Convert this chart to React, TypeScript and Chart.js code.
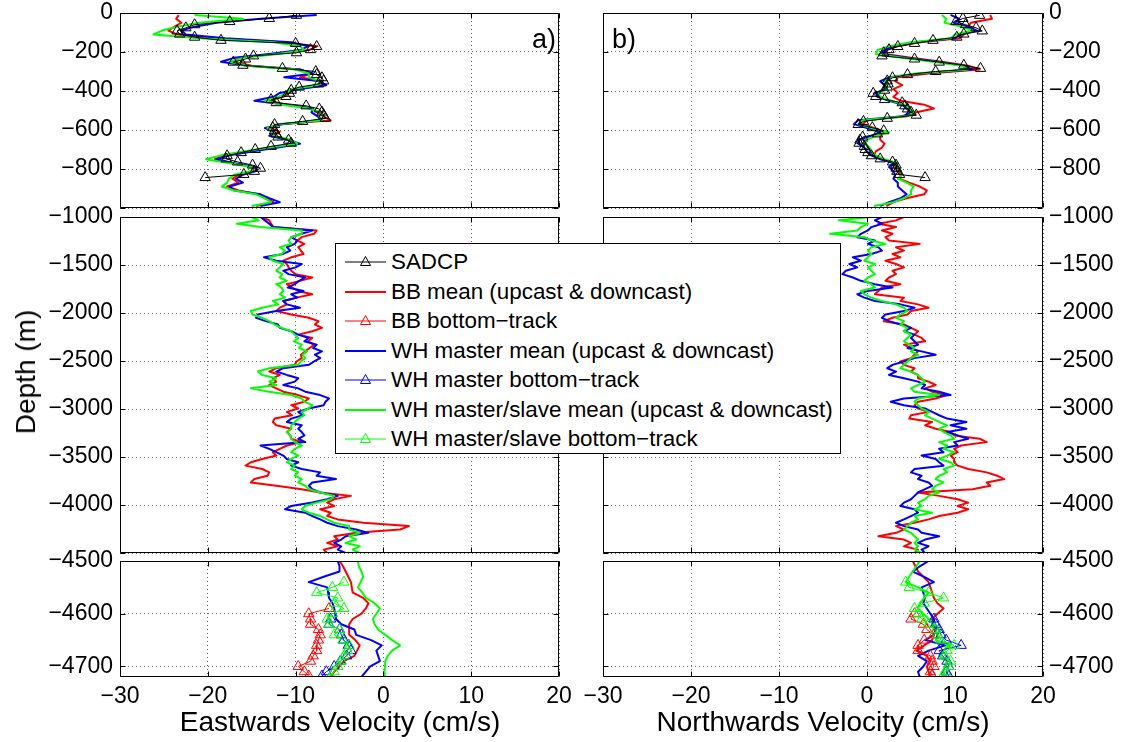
import React, { useEffect, useRef } from 'react';
import { Chart, registerables } from 'chart.js';

Chart.register(...registerables);

const FONT = '"Liberation Sans", Arial, Helvetica, sans-serif';
const RED = '#ff0000';
const BLUE = '#0000ff';
const GREEN = '#00ff00';
const BLACK = '#000000';
const GRID = 'rgba(0,0,0,0.6)';

// ---------- axes / ticks ----------
const xTickValues = [-30, -20, -10, 0, 10, 20];
const yTicksTop = [0, -200, -400, -600, -800, -1000];
const yTicksMid = [-1000, -1500, -2000, -2500, -3000, -3500, -4000, -4500];
const yTicksBot = [-4500, -4600, -4700];

// ---------- depth grids (m) ----------
const depthSADCP = [
  -12, -28, -44, -60, -76, -92, -108, -124, -140, -156,
  -172, -188, -204, -220, -236, -252, -268, -284, -300, -316,
  -332, -348, -364, -380, -396, -412, -428, -444, -460, -476,
  -492, -508, -524, -540, -556, -572, -588, -604, -620, -636,
  -652, -668, -684, -700, -716, -732, -748, -764, -780, -796,
  -812, -828, -844,
];
const depthTop = [
  -10, -30, -50, -70, -90, -110, -130, -150, -170, -190,
  -210, -230, -250, -270, -290, -310, -330, -350, -370, -390,
  -410, -430, -450, -470, -490, -510, -530, -550, -570, -590,
  -610, -630, -650, -670, -690, -710, -730, -750, -770, -790,
  -810, -830, -850, -870, -890, -910, -930, -950, -970, -990,
];
const depthMid = [
  -1000, -1035, -1070, -1105, -1140, -1175, -1210, -1245, -1280, -1315,
  -1350, -1385, -1420, -1455, -1490, -1525, -1560, -1595, -1630, -1665,
  -1700, -1735, -1770, -1805, -1840, -1875, -1910, -1945, -1980, -2015,
  -2050, -2085, -2120, -2155, -2190, -2225, -2260, -2295, -2330, -2365,
  -2400, -2435, -2470, -2505, -2540, -2575, -2610, -2645, -2680, -2715,
  -2750, -2785, -2820, -2855, -2890, -2925, -2960, -2995, -3030, -3065,
  -3100, -3135, -3170, -3205, -3240, -3275, -3310, -3345, -3380, -3415,
  -3450, -3485, -3520, -3555, -3590, -3625, -3660, -3695, -3730, -3765,
  -3800, -3835, -3870, -3905, -3940, -3975, -4010, -4045, -4080, -4115,
  -4150, -4185, -4220, -4255, -4290, -4325, -4360, -4395, -4430, -4465,
  -4500,
];
const depthBot = [
  -4500, -4510, -4520, -4530, -4540, -4550, -4560, -4570, -4580, -4590,
  -4600, -4610, -4620, -4630, -4640, -4650, -4660, -4670, -4680, -4690,
  -4700, -4710, -4720,
];
const depthBT = [
  -4540, -4550, -4560, -4570, -4580, -4590, -4600, -4610, -4620, -4630,
  -4640, -4650, -4660, -4670, -4680, -4690, -4700, -4710, -4718,
];

// ---------- Eastward velocity (cm/s) ----------
const sadcpE = [
  -9.9, -13.0, -17.5, -21.5, -22.5, -23.5, -23.2, -21.5, -18.5, -10.0,
  -7.6, -8.3, -9.9, -14.8, -15.7, -17.1, -16.0, -11.5, -7.7, -7.6,
  -7.0, -6.8, -7.4, -9.6, -10.5, -10.7, -11.1, -12.8, -12.2, -8.8,
  -7.3, -7.0, -6.8, -6.6, -9.2, -12.4, -12.6, -12.4, -12.2, -12.0,
  -10.8, -10.5, -12.8, -14.6, -16.2, -17.8, -17.9, -16.6, -14.9, -14.0,
  -14.7, -15.9, -20.3,
];
const bbTopE = [
  -23.3, -23.6, -23.0, -23.8, -24.5, -23.5, -19.5, -11.5, -7.5, -8.5,
  -12.5, -16.5, -17.0, -15.0, -9.5, -8.2, -9.5, -7.0, -6.8, -10.0,
  -10.8, -11.5, -13.0, -11.0, -8.2, -7.5, -6.8, -6.0, -11.8, -12.8,
  -11.8, -12.8, -10.8, -10.0, -12.5, -15.5, -18.0, -19.2, -17.2, -14.8,
  -14.8, -16.5, -17.2, -16.5, -17.8, -16.5, -14.2, -13.5, -12.5, -14.5,
];
const whTopE = [
  -7.6, -14.0, -19.0, -21.5, -23.0, -22.5, -18.0, -10.5, -8.5, -9.5,
  -13.0, -17.0, -18.5, -15.5, -9.5, -8.0, -11.3, -7.2, -6.5, -9.5,
  -11.8, -12.5, -14.7, -11.0, -8.0, -8.2, -7.5, -7.0, -11.5, -13.5,
  -12.5, -13.0, -11.0, -9.5, -12.0, -15.0, -17.5, -19.0, -17.0, -14.5,
  -14.5, -16.0, -16.8, -16.0, -17.5, -17.0, -14.0, -13.0, -11.8, -14.0,
];
const msTopE = [
  -21.5, -16.0, -21.0, -23.5, -25.2, -26.2, -21.0, -12.5, -9.5, -9.0,
  -12.0, -16.0, -17.5, -15.5, -10.0, -8.5, -8.5, -7.2, -7.5, -10.5,
  -11.0, -12.0, -13.5, -11.5, -8.5, -7.0, -7.3, -7.0, -12.0, -13.2,
  -12.8, -12.5, -10.5, -9.8, -13.0, -16.0, -18.5, -20.2, -17.5, -15.0,
  -15.0, -17.0, -17.6, -17.8, -18.4, -17.0, -14.5, -13.5, -12.8, -15.0,
];
const bbMidE = [
  -13.8, -13.0, -12.8, -12.5, -7.6, -7.9, -9.3, -9.8, -9.0, -9.7,
  -9.4, -9.1, -10.5, -11.4, -11.0, -10.8, -10.5, -10.0, -8.1, -9.5,
  -11.0, -10.4, -9.7, -8.1, -9.9, -11.4, -11.0, -11.8, -12.2, -10.5,
  -8.5, -7.4, -7.8, -7.0, -8.1, -9.7, -8.1, -8.6, -7.9, -8.4,
  -8.9, -9.4, -9.3, -9.9, -10.1, -12.2, -13.0, -11.8, -12.6, -12.2,
  -13.0, -12.2, -11.4, -9.7, -8.5, -9.0, -10.5, -9.7, -11.0, -10.4,
  -12.4, -12.6, -12.2, -10.5, -11.0, -10.6, -10.5, -9.3, -11.0, -11.8,
  -12.6, -12.2, -13.8, -15.1, -15.7, -13.8, -13.0, -13.2, -14.7, -15.1,
  -12.2, -9.3, -7.2, -3.7, -5.6, -6.4, -5.6, -7.2, -6.0, -6.4,
  -5.2, -2.3, 2.9, 1.9, -3.1, -5.6, -5.2, -6.4, -5.2, -6.8,
  -6.4,
];
const whMidE = [
  -14.0, -13.5, -13.0, -12.6, -8.1, -9.3, -10.5, -9.8, -10.1, -11.0,
  -10.6, -11.4, -13.6, -12.2, -9.3, -10.0, -11.4, -10.8, -8.9, -9.6,
  -10.1, -10.9, -9.1, -10.5, -9.8, -11.4, -11.0, -9.5, -12.2, -14.3,
  -14.5, -13.4, -12.0, -11.8, -10.5, -9.7, -8.5, -9.0, -7.6, -8.0,
  -7.0, -7.8, -7.2, -7.9, -8.5, -11.4, -12.2, -11.0, -9.7, -10.1,
  -11.4, -9.7, -8.9, -7.2, -6.2, -6.6, -6.8, -8.5, -9.7, -9.2,
  -10.5, -11.0, -9.3, -9.7, -9.3, -9.0, -9.7, -8.9, -14.0, -13.0,
  -12.2, -11.4, -11.0, -9.7, -10.5, -9.3, -7.2, -7.6, -5.4, -8.1,
  -8.5, -8.1, -7.2, -5.2, -6.4, -8.1, -10.5, -11.2, -8.9, -8.1,
  -7.2, -6.4, -5.2, -3.1, -1.7, -4.3, -4.8, -5.6, -4.8, -5.2,
  -4.3,
];
const msMidE = [
  -15.0, -14.2, -16.7, -14.0, -9.3, -9.3, -10.5, -10.8, -10.5, -11.8,
  -11.2, -11.6, -13.0, -12.6, -11.4, -11.8, -12.2, -11.5, -11.8, -11.0,
  -12.2, -11.6, -11.4, -11.8, -11.2, -12.6, -12.0, -13.8, -15.1, -14.9,
  -13.8, -13.0, -12.4, -11.6, -10.5, -10.1, -9.7, -10.2, -9.3, -9.6,
  -8.7, -9.2, -8.9, -9.4, -9.7, -13.0, -14.3, -13.8, -12.2, -13.0,
  -12.2, -15.1, -13.0, -10.5, -9.3, -9.0, -8.1, -8.5, -9.3, -9.0,
  -9.7, -10.1, -10.5, -10.5, -11.0, -10.6, -10.5, -10.1, -9.3, -10.1,
  -10.5, -9.7, -10.5, -11.0, -10.1, -10.5, -9.7, -10.1, -9.3, -9.7,
  -8.9, -8.5, -7.2, -5.6, -6.0, -7.6, -8.9, -9.3, -8.5, -7.2,
  -6.4, -5.6, -3.9, -3.9, -2.7, -3.9, -3.1, -4.3, -2.7, -3.5,
  -2.7,
];
const bbBotE = [
  -5.0, -4.6, -4.3, -4.0, -3.7, -3.6, -3.5, -2.3, -1.7, -2.0,
  -2.5, -3.5, -3.9, -3.9, -3.9, -3.2, -2.7, -3.0, -3.3, -4.5,
  -5.0, -5.6, -6.0,
];
const whBotE = [
  -5.2, -5.0, -5.0, -6.8, -8.5, -6.4, -6.3, -6.2, -5.8, -5.6,
  -5.5, -5.4, -4.8, -3.3, -3.1, -1.4, -0.2, -0.8, -0.6, -0.4,
  -1.5, -2.0, -2.5,
];
const msBotE = [
  -2.9, -2.8, -2.5, -2.3, -2.6, -2.9, -2.4, -2.0, -1.0, -0.4,
  -0.8, -1.2, -1.0, -0.6, 0.2, 1.0, 1.9, 1.0, 0.5, 0.2,
  0.2, 0.1, 0.2,
];
const bbBtE = [
  null, null, null, null, null, -6.2, -8.5, -8.3, -8.3, -7.4,
  -7.2, -7.4, -7.6, -7.6, -8.0, -8.3, -9.7, -9.0, -8.5,
];
const whBtE = [
  null, null, null, null, null, null, null, -6.0, -6.2, -5.0,
  -4.8, -4.5, -4.0, -3.7, -4.2, -4.9, -5.6, -6.5, -7.0,
];
const msBtE = [
  -4.5, -5.8, -7.6, -5.2, -5.6, -4.5, -5.8, -6.4, -6.2, -5.0,
  -5.6, -4.6, -3.9, -4.1, -4.5, -4.8, -5.2, -5.6, -6.0,
];

// ---------- Northward velocity (cm/s) ----------
const sadcpN = [
  12.8, 10.9, 10.1, 11.2, 12.4, 13.1, 11.0, 10.2, 7.5, 5.4,
  3.5, 2.5, 1.9, 1.7, 5.4, 8.2, 11.0, 12.9, 7.8, 4.6,
  2.9, 2.3, 2.4, 2.3, 2.0, 0.7, 1.0, 2.0, 4.0, 4.3,
  4.6, 5.0, 5.6, 2.3, -0.4, -1.0, 0.6, 1.9, 1.2, -0.5,
  -0.8, -0.9, -0.3, -0.2, 0.1, 0.5, 1.5, 2.9, 3.3, 3.3,
  3.4, 3.7, 6.6,
];
const bbTopN = [
  14.0, 14.2, 11.8, 11.5, 12.0, 11.0, 10.5, 6.0, 3.5, 2.0,
  2.0, 5.0, 8.5, 11.5, 12.8, 7.0, 3.5, 3.2, 4.0, 3.0,
  3.5, 3.0, 3.8, 6.5, 7.6, 5.5, 4.5, 0.0, -0.5, 0.8,
  2.0, 1.5, 1.5, 2.0, 1.7, 1.0, 0.8, 1.8, 3.2, 3.0,
  3.5, 3.8, 3.7, 4.8, 6.0, 6.8, 6.5, 4.5, 3.0, 2.2,
];
const whTopN = [
  9.5, 10.5, 9.8, 11.5, 12.5, 10.5, 10.0, 5.5, 3.0, 2.0,
  1.5, 4.5, 8.0, 11.0, 12.0, 6.0, 2.5, 1.5, 2.0, 2.0,
  1.0, 1.2, 2.5, 4.0, 4.5, 5.0, 4.0, -1.0, -1.5, 0.0,
  1.5, 0.5, -1.0, -1.0, -0.3, 0.0, 0.5, 1.5, 3.0, 2.5,
  3.0, 3.2, 3.0, 3.5, 3.5, 4.0, 4.5, 3.8, 2.5, 1.5,
];
const msTopN = [
  8.5, 9.0, 8.8, 10.8, 12.0, 10.0, 9.5, 5.0, 2.5, 1.2,
  1.0, 4.0, 7.5, 10.8, 11.5, 5.5, 2.8, 2.0, 2.2, 2.3,
  1.3, 1.5, 2.8, 4.2, 4.8, 5.4, 4.5, -0.5, -1.0, 0.5,
  2.5, 1.0, 0.0, -0.2, 0.3, 0.5, 1.0, 2.0, 3.5, 3.2,
  3.8, 4.0, 3.5, 4.5, 5.3, 5.0, 5.0, 4.2, 3.0, 0.8,
];
const bbMidN = [
  4.2, 3.3, 1.3, 3.3, 1.7, 2.9, 2.1, 2.5, 6.0, 3.3,
  4.2, 2.9, 3.8, 2.1, 3.3, 4.2, 2.9, 3.3, 2.5, 2.1,
  3.8, 1.7, 1.3, 0.9, 4.2, 3.8, 5.8, 7.0, 5.0, 4.6,
  2.9, 1.9, 4.2, 5.0, 5.8, 5.4, 6.2, 6.6, 4.2, 5.0,
  5.8, 5.4, 5.0, 3.8, 4.2, 5.4, 5.0, 5.8, 5.8, 7.0,
  7.8, 6.6, 7.4, 9.1, 7.8, 5.8, 5.4, 5.8, 7.0, 5.0,
  4.8, 7.4, 6.6, 7.8, 9.5, 9.9, 12.8, 13.6, 10.7, 9.9,
  10.3, 9.5, 9.9, 9.9, 10.3, 11.5, 13.6, 14.8, 15.6, 13.6,
  14.0, 12.0, 5.8, 8.2, 10.3, 11.5, 10.3, 11.5, 10.3, 8.2,
  7.0, 5.4, 3.3, 4.2, 3.3, 1.3, 4.2, 5.0, 4.2, 5.8,
  5.4,
];
const whMidN = [
  1.7, 0.9, 1.7, 0.5, 0.1, -0.7, -1.1, 0.9, 0.1, 1.3,
  1.7, 0.5, -1.6, -0.7, -2.0, -1.1, -2.4, -2.8, -1.6, -0.7,
  0.9, 2.9, 0.1, -1.1, -0.3, 0.9, 3.8, 5.4, 4.2, 2.1,
  1.7, 2.5, 3.8, 5.0, 4.2, 5.4, 5.0, 5.4, 5.8, 4.6,
  6.2, 7.8, 5.4, 4.2, 2.9, 2.3, 3.3, 2.5, 4.2, 5.8,
  6.6, 6.2, 8.2, 9.5, 4.2, 2.7, 4.2, 6.6, 7.4, 8.2,
  9.1, 11.3, 9.5, 11.3, 9.1, 10.3, 11.5, 9.9, 10.3, 8.2,
  8.7, 6.2, 7.8, 8.2, 8.7, 5.4, 5.0, 6.2, 5.8, 7.0,
  7.4, 6.6, 5.8, 5.4, 5.0, 4.2, 3.8, 5.4, 5.8, 5.0,
  4.2, 3.3, 4.2, 5.8, 6.2, 8.2, 6.6, 5.8, 7.0, 6.2,
  6.6,
];
const msMidN = [
  0.5, -3.2, 0.1, -0.7, -1.1, -4.2, -0.3, 0.5, 2.1, 0.5,
  0.1, 0.5, 0.1, -0.3, 0.9, 0.1, 0.5, 0.9, 0.1, -0.3,
  0.5, 0.9, -0.7, -0.3, 0.5, 1.7, 3.3, 4.2, 4.6, 3.8,
  3.3, 4.2, 3.8, 4.6, 4.2, 5.0, 4.6, 4.2, 4.8, 5.4,
  5.0, 5.8, 5.0, 4.6, 4.2, 3.8, 5.0, 5.8, 6.2, 6.6,
  5.8, 5.0, 5.4, 8.2, 5.8, 5.4, 5.8, 6.2, 7.0, 6.6,
  7.4, 8.2, 9.1, 8.2, 8.7, 9.5, 9.9, 8.2, 9.1, 8.7,
  9.9, 9.1, 8.2, 9.5, 9.9, 8.7, 9.1, 8.2, 7.8, 8.7,
  7.8, 7.4, 8.2, 7.0, 6.6, 5.8, 6.2, 5.4, 7.4, 5.4,
  5.8, 5.0, 4.6, 4.2, 5.0, 5.4, 5.8, 5.4, 5.8, 5.4,
  6.2,
];
const bbBotN = [
  5.2, 5.5, 5.8, 6.4, 7.0, 7.2, 7.4, 7.6, 8.0, 8.7,
  8.0, 7.4, 7.5, 7.8, 7.6, 7.4, 6.5, 5.6, 6.8, 7.2,
  6.8, 7.0, 7.2,
];
const whBotN = [
  7.0, 6.0, 5.2, 6.5, 7.6, 6.2, 6.4, 6.6, 6.4, 6.8,
  7.2, 7.6, 7.4, 7.8, 7.6, 6.6, 8.9, 7.0, 5.8, 6.8,
  6.4, 5.8, 6.0,
];
const msBotN = [
  6.0, 5.6, 5.2, 4.8, 4.4, 5.8, 7.0, 6.5, 6.0, 5.8,
  6.4, 7.0, 7.6, 8.2, 8.0, 7.8, 9.5, 8.6, 8.2, 9.1,
  8.8, 8.7, 8.7,
];
const bbBtN = [
  null, null, null, null, null, null, 5.4, 5.0, 6.4, 6.8,
  7.6, 6.5, 5.8, 5.8, 7.2, 7.4, 7.6, 7.2, 7.4,
];
const whBtN = [
  null, null, null, null, null, null, null, 7.6, 7.8, 8.2,
  8.4, 9.0, 10.7, 8.2, 8.6, 9.1, 9.3, 9.0, 9.3,
];
const msBtN = [
  4.4, 4.8, 7.0, 8.7, 6.5, 5.4, 5.8, 6.2, 7.0, 7.8,
  8.0, 8.4, 9.9, 9.1, 8.8, 9.5, 9.3, 8.9, 8.6,
];

// ---------- legend ----------
const legendLabels = [
  'SADCP',
  'BB mean (upcast & downcast)',
  'BB bottom\u2212track',
  'WH master mean (upcast & downcast)',
  'WH master bottom\u2212track',
  'WH master/slave mean (upcast & downcast)',
  'WH master/slave bottom\u2212track',
];
const legendColors = [BLACK, RED, RED, BLUE, BLUE, GREEN, GREEN];
const legendMarkers = [true, false, true, false, true, false, true];

// ---------- helpers ----------
function pts(xs: any[], ys: number[]) {
  const out: any[] = [];
  for (let i = 0; i < ys.length; i++) {
    if (xs[i] !== null && xs[i] !== undefined) out.push({ x: xs[i], y: ys[i] });
  }
  return out;
}
function meanDs(xs: any[], ys: number[], color: string, order: number) {
  return {
    data: pts(xs, ys), showLine: true, borderColor: color, backgroundColor: color,
    borderWidth: 2, pointRadius: 0, borderJoinStyle: 'round', order,
  };
}
function triDs(xs: any[], ys: number[], color: string, order: number) {
  return {
    data: pts(xs, ys), showLine: true, borderColor: color, backgroundColor: color,
    borderWidth: 1, pointStyle: 'triangle', pointRadius: 6,
    pointBorderColor: color, pointBackgroundColor: 'rgba(0,0,0,0)', pointBorderWidth: 1, order,
  };
}
function fmt(v: number) {
  return v < 0 ? '\u2212' + Math.abs(v) : String(v);
}

const framePlugin = {
  id: 'frameTicks',
  afterDatasetsDraw(chart: any) {
    const { ctx, chartArea } = chart;
    const xs = chart.scales.x;
    const ys = chart.scales.y;
    const L = Math.round(chartArea.left) + 0.5;
    const R = Math.round(chartArea.right) - 0.5;
    const T = Math.round(chartArea.top) + 0.5;
    const B = Math.round(chartArea.bottom) - 0.5;
    const tl = 5;
    ctx.save();
    ctx.strokeStyle = '#000';
    ctx.lineWidth = 1;
    ctx.setLineDash([]);
    ctx.beginPath();
    ctx.rect(L, T, R - L, B - T);
    xs.ticks.forEach((t: any) => {
      const px = Math.round(xs.getPixelForValue(t.value)) + 0.5;
      ctx.moveTo(px, B); ctx.lineTo(px, B - tl);
      ctx.moveTo(px, T); ctx.lineTo(px, T + tl);
    });
    ys.ticks.forEach((t: any) => {
      const py = Math.round(ys.getPixelForValue(t.value)) + 0.5;
      ctx.moveTo(L, py); ctx.lineTo(L + tl, py);
      ctx.moveTo(R, py); ctx.lineTo(R - tl, py);
    });
    ctx.stroke();
    ctx.restore();
  },
};

type PanelProps = {
  left: number; top: number; width: number; height: number;
  padL: number; padR: number; padT: number; padB: number;
  yPos: 'left' | 'right'; yW: number; xH: number;
  yMin: number; yMax: number; yTicks: number[]; yHide: number[];
  xLabels: boolean; makeData: () => any[];
};

function Panel(p: PanelProps) {
  const ref = useRef<HTMLCanvasElement>(null);
  useEffect(() => {
    const tickFont = { family: FONT, size: 23 };
    const chart = new Chart(ref.current as HTMLCanvasElement, {
      type: 'scatter',
      data: { datasets: p.makeData() },
      options: {
        responsive: false,
        maintainAspectRatio: false,
        animation: false,
        events: [],
        layout: { autoPadding: false, padding: { left: p.padL, right: p.padR, top: p.padT, bottom: p.padB } },
        plugins: { legend: { display: false }, tooltip: { enabled: false } },
        scales: {
          x: {
            type: 'linear', position: 'bottom', min: -30, max: 20,
            afterBuildTicks: (s: any) => { s.ticks = xTickValues.map((v) => ({ value: v })); },
            afterFit: (s: any) => { s.height = p.xH; s.paddingLeft = 0; s.paddingRight = 0; s.paddingTop = 0; s.paddingBottom = 0; },
            ticks: { display: p.xLabels, font: tickFont, color: '#000', padding: 6, autoSkip: false, maxRotation: 0, callback: (v: any) => fmt(Number(v)) },
            grid: { color: GRID, lineWidth: 1, drawTicks: false },
            border: { display: false, dash: [1, 3] },
          },
          y: {
            type: 'linear', position: p.yPos, min: p.yMin, max: p.yMax,
            afterBuildTicks: (s: any) => { s.ticks = p.yTicks.map((v) => ({ value: v })); },
            afterFit: (s: any) => { s.width = p.yW; s.paddingLeft = 0; s.paddingRight = 0; s.paddingTop = 0; s.paddingBottom = 0; },
            ticks: { font: tickFont, color: '#000', padding: p.yPos === 'left' ? 7 : 6, autoSkip: false, callback: (v: any) => (p.yHide.includes(Number(v)) ? '' : fmt(Number(v))) },
            grid: { color: GRID, lineWidth: 1, drawTicks: false },
            border: { display: false, dash: [1, 3] },
          },
        },
      } as any,
      plugins: [framePlugin],
    });
    return () => chart.destroy();
  }, []);
  return (
    <canvas
      ref={ref}
      width={p.width}
      height={p.height}
      style={{ position: 'absolute', left: p.left, top: p.top, width: p.width, height: p.height }}
    />
  );
}

const COL_LEFT = { left: 0, width: 580, padL: 0, padR: 21, yPos: 'left' as const, yW: 120 };
const COL_RIGHT = { left: 580, width: 542, padL: 23, padR: 0, yPos: 'right' as const, yW: 79 };
const ROW_TOP = { top: 0, height: 220, padT: 13, padB: 12, xH: 0, yMin: -1000, yMax: 0, yTicks: yTicksTop, yHide: [-1000], xLabels: false };
const ROW_MID = { top: 200, height: 365, padT: 17, padB: 12, xH: 0, yMin: -4500, yMax: -1000, yTicks: yTicksMid, yHide: [-4500], xLabels: false };
const ROW_BOT = { top: 545, height: 197, padT: 16, padB: 25, xH: 40, yMin: -4720, yMax: -4500, yTicks: yTicksBot, yHide: [] as number[], xLabels: true };

function Legend() {
  return (
    <div
      style={{
        position: 'absolute', left: 335, top: 243, width: 506, height: 211,
        border: '1px solid #000', background: '#fff', boxSizing: 'border-box', zIndex: 5,
      }}
    >
      {legendLabels.map((lab, i) => {
        const cy = 18 + i * 29.5;
        const c = legendColors[i];
        return (
          <div key={lab} style={{ position: 'absolute', left: 0, top: cy - 12, height: 24, width: 500 }}>
            <svg width={44} height={24} style={{ position: 'absolute', left: 8, top: 0 }}>
              <line x1={1} y1={12} x2={42} y2={12} stroke={c} strokeWidth={legendMarkers[i] ? 1 : 2.2} />
              {legendMarkers[i] ? (
                <polygon points="21.5,6.5 26.5,15.5 16.5,15.5" fill="none" stroke={c} strokeWidth={1} />
              ) : null}
            </svg>
            <span
              style={{
                position: 'absolute', left: 55, top: 0, lineHeight: '24px', fontSize: 22.4,
                fontFamily: FONT, color: '#000', whiteSpace: 'nowrap',
              }}
            >
              {lab}
            </span>
          </div>
        );
      })}
    </div>
  );
}

const textBase: any = { position: 'absolute', fontFamily: FONT, color: '#000', whiteSpace: 'nowrap', lineHeight: 1 };

export default function App() {
  const panels = [
    { ...COL_LEFT, ...ROW_TOP, key: 'lt', makeData: () => [
      triDs(sadcpE, depthSADCP, BLACK, 0), meanDs(msTopE, depthTop, GREEN, 4),
      meanDs(whTopE, depthTop, BLUE, 5), meanDs(bbTopE, depthTop, RED, 6)] },
    { ...COL_RIGHT, ...ROW_TOP, key: 'rt', makeData: () => [
      triDs(sadcpN, depthSADCP, BLACK, 0), meanDs(msTopN, depthTop, GREEN, 4),
      meanDs(whTopN, depthTop, BLUE, 5), meanDs(bbTopN, depthTop, RED, 6)] },
    { ...COL_LEFT, ...ROW_MID, key: 'lm', makeData: () => [
      meanDs(msMidE, depthMid, GREEN, 4), meanDs(whMidE, depthMid, BLUE, 5), meanDs(bbMidE, depthMid, RED, 6)] },
    { ...COL_RIGHT, ...ROW_MID, key: 'rm', makeData: () => [
      meanDs(msMidN, depthMid, GREEN, 4), meanDs(whMidN, depthMid, BLUE, 5), meanDs(bbMidN, depthMid, RED, 6)] },
    { ...COL_LEFT, ...ROW_BOT, key: 'lb', makeData: () => [
      triDs(msBtE, depthBT, GREEN, 1), triDs(whBtE, depthBT, BLUE, 2), triDs(bbBtE, depthBT, RED, 3),
      meanDs(msBotE, depthBot, GREEN, 4), meanDs(whBotE, depthBot, BLUE, 5), meanDs(bbBotE, depthBot, RED, 6)] },
    { ...COL_RIGHT, ...ROW_BOT, key: 'rb', makeData: () => [
      triDs(msBtN, depthBT, GREEN, 1), triDs(whBtN, depthBT, BLUE, 2), triDs(bbBtN, depthBT, RED, 3),
      meanDs(msBotN, depthBot, GREEN, 4), meanDs(whBotN, depthBot, BLUE, 5), meanDs(bbBotN, depthBot, RED, 6)] },
  ];
  return (
    <div style={{ position: 'fixed', left: 0, top: 0, width: 1122, height: 742, background: '#fff', overflow: 'hidden' }}>
      {panels.map(({ key, ...rest }) => <Panel key={key} {...(rest as any)} />)}
      <div style={{ ...textBase, left: 26, top: 372, fontSize: 28, transform: 'translate(-50%, -50%) rotate(-90deg)' }}>Depth (m)</div>
      <div style={{ ...textBase, left: 340, top: 722, fontSize: 28, transform: 'translate(-50%, -50%)' }}>Eastwards Velocity (cm/s)</div>
      <div style={{ ...textBase, left: 823, top: 722, fontSize: 28, transform: 'translate(-50%, -50%)' }}>Northwards Velocity (cm/s)</div>
      <div style={{ ...textBase, left: 556, top: 39, fontSize: 27, transform: 'translate(-100%, -50%)' }}>a)</div>
      <div style={{ ...textBase, left: 612, top: 39, fontSize: 27, transform: 'translate(0, -50%)' }}>b)</div>
      <Legend />
    </div>
  );
}
